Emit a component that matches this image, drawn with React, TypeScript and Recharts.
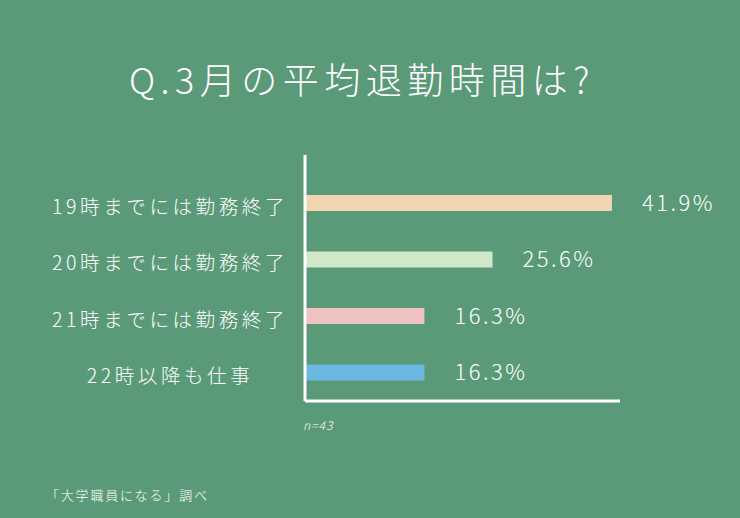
import React from 'react';
import { BarChart, Bar, XAxis, YAxis, LabelList, Cell } from 'recharts';

const categories = [
  '19時までには勤務終了',
  '20時までには勤務終了',
  '21時までには勤務終了',
  '22時以降も仕事',
];
const shares = [41.9, 25.6, 16.3, 16.3];
const barColors = ['#f0d5b0', '#d0e8c8', '#f0c3c3', '#6ab8e0'];

const title = 'Q.3月の平均退勤時間は?';
const sampleNote = 'n=43';
const sourceNote = '「大学職員になる」調べ';

const font = '"Noto Sans CJK JP", "Noto Sans", sans-serif';

const data = categories.map((name, i) => ({ name, share: shares[i] }));

function CategoryTick({ y, payload }: { y?: number; payload?: { value: string } }) {
  return (
    <text
      x={170}
      y={y}
      dy={2}
      textAnchor="middle"
      dominantBaseline="central"
      fill="#ffffff"
      fontFamily={font}
      fontWeight={300}
      fontSize={19.5}
      letterSpacing={3.6}
    >
      {payload?.value}
    </text>
  );
}

export default function App() {
  return (
    <div
      style={{
        position: 'fixed',
        left: 0,
        top: 0,
        width: 740,
        height: 518,
        background: '#5a9a78',
        fontFamily: font,
        color: '#ffffff',
      }}
    >
      <div
        style={{
          position: 'absolute',
          left: 0,
          width: 724,
          top: 52,
          textAlign: 'center',
          fontSize: 36,
          fontWeight: 300,
          letterSpacing: 5.5,
          lineHeight: '52px',
        }}
      >
        {title}
      </div>

      <BarChart
        layout="vertical"
        width={740}
        height={518}
        data={data}
        margin={{ top: 155, right: 120, bottom: 116, left: 0 }}
        style={{ position: 'absolute', left: 0, top: 0 }}
      >
        <XAxis
          type="number"
          domain={[0, 43]}
          height={1}
          tick={false}
          tickLine={false}
          axisLine={{ stroke: '#ffffff', strokeWidth: 3 }}
        />
        <YAxis
          type="category"
          dataKey="name"
          width={305}
          padding={{ top: 20, bottom: 0 }}
          tickLine={false}
          axisLine={{ stroke: '#ffffff', strokeWidth: 3 }}
          tick={<CategoryTick />}
        />
        <Bar dataKey="share" barSize={16} isAnimationActive={false}>
          {data.map((d, i) => (
            <Cell key={d.name} fill={barColors[i]} />
          ))}
          <LabelList
            dataKey="share"
            position="right"
            offset={30}
            formatter={(v: number) => `${v.toFixed(1)}%`}
            fill="#ffffff"
            fontFamily={font}
            fontWeight={300}
            fontSize={22}
            letterSpacing={2.5}
          />
        </Bar>
      </BarChart>

      <div
        style={{
          position: 'absolute',
          left: 303,
          top: 416,
          fontSize: 12,
          fontStyle: 'italic',
          fontWeight: 300,
          letterSpacing: 1,
        }}
      >
        {sampleNote}
      </div>

      <div
        style={{
          position: 'absolute',
          left: 46,
          top: 485,
          fontSize: 13,
          fontWeight: 300,
          letterSpacing: 1.8,
        }}
      >
        {sourceNote}
      </div>
    </div>
  );
}
